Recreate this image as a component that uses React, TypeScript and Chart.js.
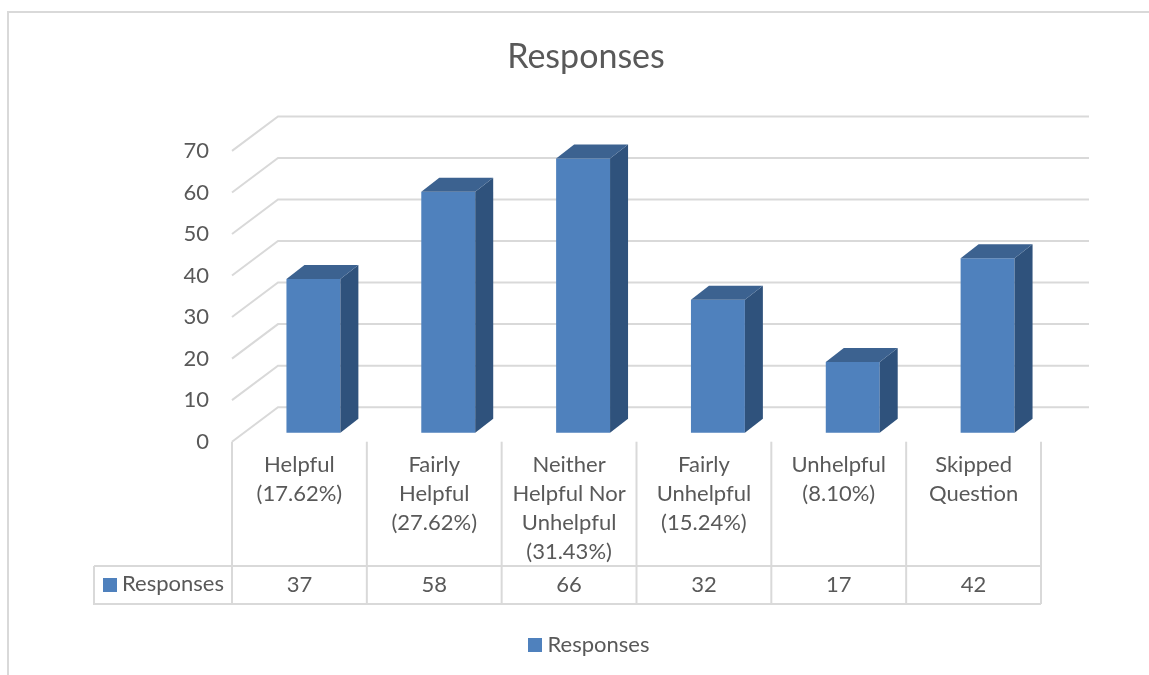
import React, { useEffect, useRef } from "react";
import { Chart, registerables } from "chart.js";

Chart.register(...registerables);

const categories: string[][] = [
  ["Helpful", "(17.62%)"],
  ["Fairly", "Helpful", "(27.62%)"],
  ["Neither", "Helpful Nor", "Unhelpful", "(31.43%)"],
  ["Fairly", "Unhelpful", "(15.24%)"],
  ["Unhelpful", "(8.10%)"],
  ["Skipped", "Question"],
];
const responses: number[] = [37, 58, 66, 32, 17, 42];
const seriesName = "Responses";
const yTicks = { min: 0, max: 70, step: 10 };

const FONT = "Lato, Carlito, Calibri, sans-serif";
const TEXT = "#595959";
const LINE = "#D9D9D9";
const FRONT = "#4F81BD";
const SIDE = "#2F527C";
const TOP = "#3C6290";

const wallDX = 46;
const wallDY = -34.5;
const wallRight = 1089;
const barShiftX = 14;
const barShiftY = -9;
const depthDX = 18;
const depthDY = -14;
const tableTop = 566;
const tableBottom = 604;
const tableLeft = 94;
const tableFontPx = 22;

const decor = {
  id: "decor",
  beforeDatasetsDraw(chart: any) {
    const { ctx, chartArea, scales } = chart;
    const y = scales.y;
    const { left, right, bottom } = chartArea;
    ctx.save();
    // outer frame
    ctx.strokeStyle = LINE;
    ctx.lineWidth = 2;
    ctx.beginPath();
    ctx.moveTo(8, 675);
    ctx.lineTo(8, 12);
    ctx.lineTo(1149, 12);
    ctx.stroke();
    // 3D wall gridlines
    for (const t of y.ticks) {
      const py = y.getPixelForValue(t.value);
      ctx.beginPath();
      ctx.moveTo(left, py);
      ctx.lineTo(left + wallDX, py + wallDY);
      ctx.lineTo(wallRight, py + wallDY);
      ctx.stroke();
    }
    // data table lines
    const step = (right - left) / categories.length;
    for (let i = 0; i <= categories.length; i++) {
      const px = left + i * step;
      ctx.beginPath();
      ctx.moveTo(px, bottom);
      ctx.lineTo(px, tableBottom);
      ctx.stroke();
    }
    ctx.beginPath();
    ctx.moveTo(tableLeft, tableTop);
    ctx.lineTo(right, tableTop);
    ctx.moveTo(tableLeft, tableTop);
    ctx.lineTo(tableLeft, tableBottom);
    ctx.lineTo(right, tableBottom);
    ctx.stroke();
    // data table text
    ctx.font = `${tableFontPx}px ${FONT}`;
    ctx.fillStyle = TEXT;
    ctx.textAlign = "center";
    ctx.textBaseline = "middle";
    const cy = (tableTop + tableBottom) / 2;
    responses.forEach((v, i) => {
      ctx.fillText(String(v), left + (i + 0.5) * step, cy);
    });
    ctx.textAlign = "left";
    ctx.fillText(seriesName, 122, cy - 1);
    ctx.fillStyle = FRONT;
    ctx.fillRect(103, 578, 14, 14);
    // legend swatch, placed by the legend's own hit box
    const hit = chart.legend?.legendHitBoxes?.[0];
    if (hit) ctx.fillRect(528, hit.top + (hit.height - 14) / 2, 14, 14);
    ctx.restore();
  },
  beforeDatasetDraw(chart: any) {
    chart.ctx.save();
    chart.ctx.translate(barShiftX, barShiftY);
  },
  afterDatasetDraw(chart: any, args: any) {
    const { ctx } = chart;
    for (const el of args.meta.data) {
      const l = el.x - el.width / 2;
      const r = el.x + el.width / 2;
      const t = el.y;
      const b = el.base;
      ctx.fillStyle = SIDE;
      ctx.beginPath();
      ctx.moveTo(r, t);
      ctx.lineTo(r + depthDX, t + depthDY);
      ctx.lineTo(r + depthDX, b + depthDY);
      ctx.lineTo(r, b);
      ctx.closePath();
      ctx.fill();
      ctx.fillStyle = TOP;
      ctx.beginPath();
      ctx.moveTo(l, t);
      ctx.lineTo(l + depthDX, t + depthDY);
      ctx.lineTo(r + depthDX, t + depthDY);
      ctx.lineTo(r, t);
      ctx.closePath();
      ctx.fill();
    }
    ctx.restore();
  },
};

export default function App() {
  const ref = useRef<HTMLCanvasElement>(null);
  useEffect(() => {
    const chart = new Chart(ref.current!, {
      type: "bar",
      data: {
        labels: categories,
        datasets: [
          {
            label: seriesName,
            data: responses,
            backgroundColor: FRONT,
            borderWidth: 0,
            categoryPercentage: 1,
            barPercentage: 0.4,
            clip: false,
          } as any,
        ],
      },
      options: {
        animation: false,
        responsive: false,
        layout: { padding: { left: 131, right: 108, top: 20, bottom: 9 } },
        plugins: {
          tooltip: { enabled: false },
          title: {
            display: true,
            text: "Responses",
            color: TEXT,
            font: { family: FONT, size: 34, weight: "normal" },
            padding: { top: 16.5, bottom: 73.6 },
          },
          legend: {
            display: true,
            position: "bottom",
            labels: {
              color: TEXT,
              boxWidth: 14,
              boxHeight: 14,
              padding: 10,
              font: { family: FONT, size: tableFontPx },
              generateLabels: () => [
                {
                  text: seriesName,
                  fillStyle: "rgba(0,0,0,0)",
                  strokeStyle: "rgba(0,0,0,0)",
                  lineWidth: 0,
                  hidden: false,
                  datasetIndex: 0,
                  fontColor: TEXT,
                },
              ],
            },
          },
        },
        scales: {
          x: {
            grid: { display: false },
            border: { display: false },
            afterFit: (s: any) => {
              s.height = 182.3;
            },
            ticks: {
              color: TEXT,
              autoSkip: false,
              maxRotation: 0,
              minRotation: 0,
              padding: 1,
              font: { family: FONT, size: tableFontPx, lineHeight: 1.32 },
            },
          },
          y: {
            min: yTicks.min,
            max: yTicks.max,
            grid: { display: false },
            border: { display: false },
            afterFit: (s: any) => {
              s.width = 101;
            },
            ticks: {
              stepSize: yTicks.step,
              color: TEXT,
              padding: 15,
              font: { family: FONT, size: tableFontPx },
            },
          },
        },
      },
      plugins: [decor],
    } as any);
    return () => chart.destroy();
  }, []);
  return (
    <canvas
      ref={ref}
      width={1149}
      height={675}
      style={{ position: "fixed", left: 0, top: 0, display: "block", background: "#fff" }}
    />
  );
}
